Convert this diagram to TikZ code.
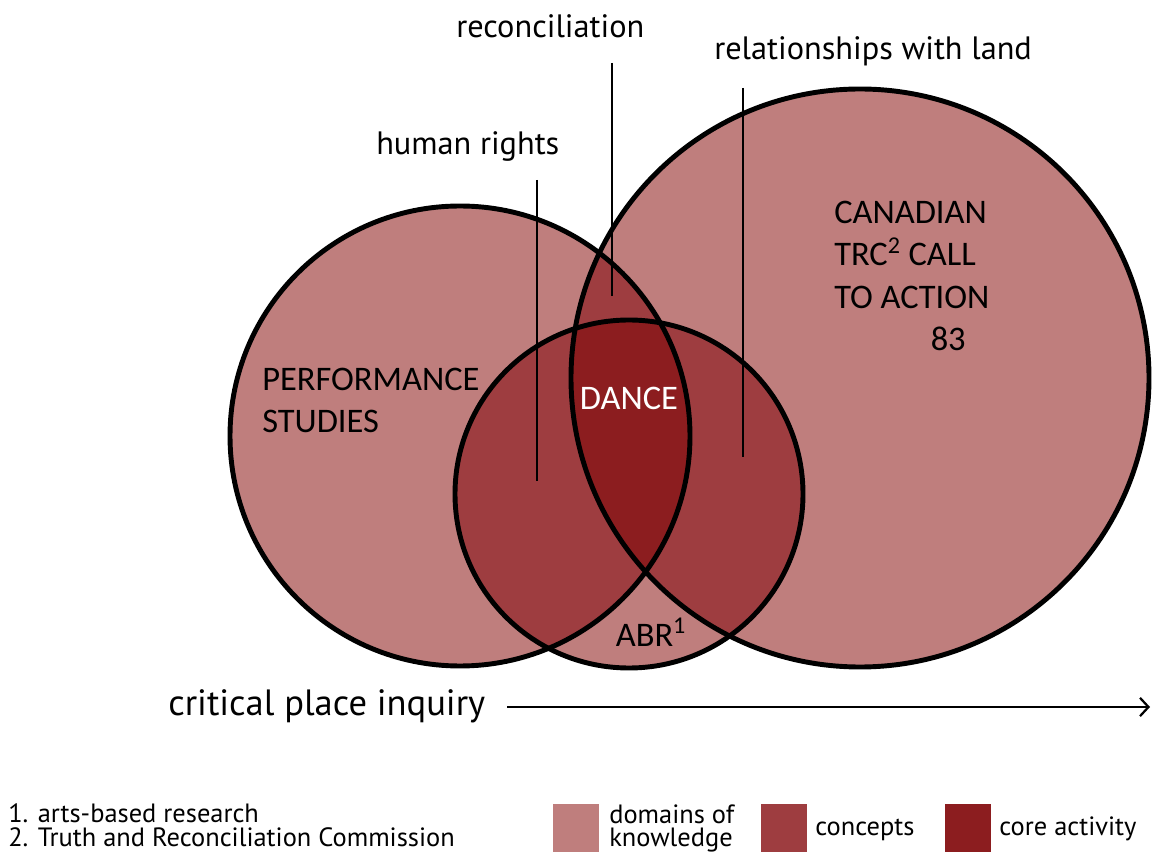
\documentclass[tikz,border=0pt]{standalone}
\usepackage{fontspec}
\setmainfont{PT Sans}
\newfontfamily\kreisfont{Carlito}
\usetikzlibrary{arrows.meta}
\definecolor{wissen}{RGB}{191,126,125}
\definecolor{konzept}{RGB}{158,61,64}
\definecolor{kern}{RGB}{140,29,31}
\def\einheit{0.025cm}

\begin{document}
\begin{tikzpicture}[>={Straight Barb[length=6pt,width=13pt]},x=\einheit,y=-\einheit,
	begriff/.style={font=\fontsize{23}{28}\selectfont,anchor=base west,inner sep=0pt},
	bereich/.style={font=\kreisfont\fontsize{24.5}{30}\selectfont,align=left,inner sep=0pt},
	fussnote/.style={font=\fontsize{18.8}{18}\selectfont,anchor=base west,inner sep=0pt},
	feld/.style={minimum width=46*\einheit,minimum height=48*\einheit,inner sep=0pt}]

\def\perf{(460,436) circle[radius=230]}
\def\trc{(860,378) circle[radius=289]}
\def\abr{(629,494) circle[radius=174]}

\useasboundingbox (0,0) rectangle (1152,852);

% Flaechen
\fill[wissen] \perf;
\fill[wissen] \trc;
\fill[wissen] \abr;
\begin{scope}
\clip \perf;
\fill[konzept] \trc;
\fill[konzept] \abr;
\end{scope}
\begin{scope}
\clip \trc;
\fill[konzept] \abr;
\end{scope}
\begin{scope}
\clip \perf;
\clip \trc;
\fill[kern] \abr;
\end{scope}

% Kreislinien
\draw[line width=3.5pt] \perf;
\draw[line width=3.5pt] \trc;
\draw[line width=3.5pt] \abr;

\node[bereich] (perfText) at (262,368) [anchor=north west] {PERFORMANCE\\STUDIES};
\node[bereich] (trcText) at (834,201) [anchor=north west]
	{CANADIAN\\TRC\textsuperscript{2} CALL\\TO ACTION\\\hspace*{2.8em}83};
\node[bereich,text=white] (dance) at (629,398) {DANCE};
\node[bereich] (abrText) at (651,632) {ABR\textsuperscript{1}};

% Begriffe mit Linien
\node[begriff] (hr) at (376,155) {human rights};
\node[begriff] (rec) at (456,38) {reconciliation};
\node[begriff] (land) at (714,60) {relationships with land};

\coordinate (hrTop) at (537,180);
\coordinate (hrEnd) at (537,481);
\coordinate (recTop) at (612,63);
\coordinate (recEnd) at (612,296);
\coordinate (landTop) at (743,88);
\coordinate (landEnd) at (743,457);
\draw[line width=1pt] (hrTop)--(hrEnd);
\draw[line width=1pt] (recTop)--(recEnd);
\draw[line width=1pt] (landTop)--(landEnd);

% Achse
\node (cpi) at (168,715) [anchor=base west,inner sep=0pt,font=\fontsize{26}{30}\selectfont] {critical place inquiry};
\coordinate (cpiEnd) at (1150,707);
\draw[->,line width=1.6pt] (507,707) -- (cpiEnd);

% Fussnoten
\node[fussnote] (fn1) at (8,822) {1. arts-based research};
\node[fussnote] (fn2) at (8,846) {2. Truth and Reconciliation Commission};

% Legende
\node[feld,fill=wissen] (keyWissen) at (576,828) {};
\node[feld,fill=konzept] (keyKonzept) at (784,828) {};
\node[feld,fill=kern] (keyKern) at (968,828) {};
\node[fussnote,anchor=north west,align=left,font=\fontsize{18.8}{17}\selectfont] (txtWissen) at (609,804) {domains of\\knowledge};
\node[fussnote] (txtKonzept) at (815,835) {concepts};
\node[fussnote] (txtKern) at (999,835) {core activity};

\end{tikzpicture}
\end{document}
